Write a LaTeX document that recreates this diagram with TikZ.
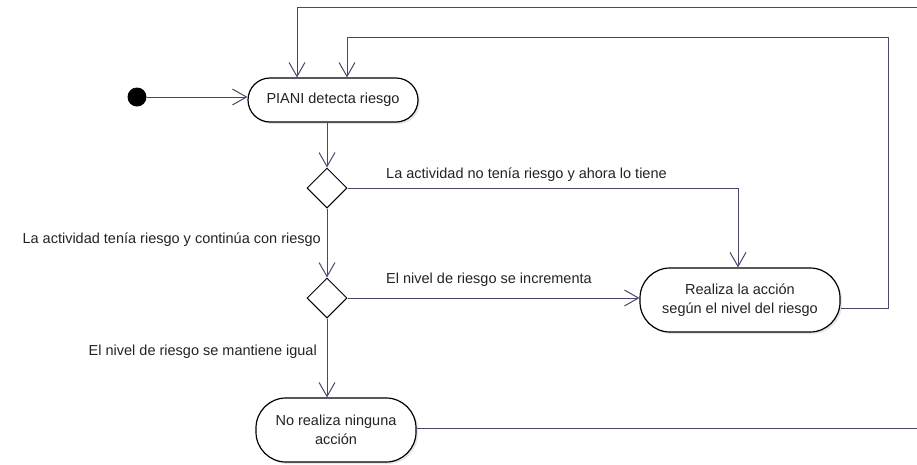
\documentclass[tikz,border=0pt]{standalone}
\usepackage{fontspec}
\setmainfont{Liberation Sans}
\usetikzlibrary{arrows.meta}
\usetikzlibrary{shapes}
\usetikzlibrary{positioning}
\usetikzlibrary{shadows}

\definecolor{flow}{RGB}{72,72,108}
\definecolor{ink}{RGB}{35,35,35}

\begin{document}
\begin{tikzpicture}[x=1pt,y=-1pt]
            \tikzset{every node/.style={font=\fontsize{14.5}{19}\selectfont, text=ink},
                    >={Straight Barb[length=14pt,width=16pt]},
                    action/.style={draw=black, line width=1.2pt, fill=white, align=center,
                        drop shadow={shadow xshift=2pt, shadow yshift=-2pt, opacity=0.2}},
                    decision/.style={diamond, draw=black, line width=1pt, fill=white,
                        minimum size=40pt, inner sep=0pt},
                    guard/.style={inner sep=1pt},
                    flowline/.style={draw=flow, line width=1pt}}
            \useasboundingbox (0,0) rectangle (917,464);
            \node[circle, fill=black, minimum size=19pt, inner sep=0pt] (start) at (137,97) {};
            \node[action, minimum width=170pt, minimum height=44pt, rounded corners=22pt] (piani) at (333,100) {PIANI detecta riesgo};
            \node[decision] (d1) at (327,188) {};
            \node[decision] (d2) at (327,298) {};
            \node[action, minimum width=200pt, minimum height=64pt, rounded corners=30pt] (act) at (740,300) {Realiza la acción\\según el nivel del riesgo};
            \node[action, minimum width=160pt, minimum height=64pt, rounded corners=30pt] (none) at (336,430) {No realiza ninguna\\acción};
            \coordinate (loopA) at (930,7);
            \coordinate (loopB) at (888,37);
            % guards
            \node[guard, anchor=west] (g1) at (385,175) {La actividad no tenía riesgo y ahora lo tiene};
            \node[guard, anchor=east] (g2) at (322,240) {La actividad tenía riesgo y continúa con riesgo};
            \node[guard, anchor=west] (g3) at (385,280) {El nivel de riesgo se incrementa};
            \node[guard, anchor=east] (g4) at (318,352) {El nivel de riesgo se mantiene igual};
            % flows
            \draw[flowline, ->] (start) -- (start -| piani.west);
            \draw[flowline, ->] (piani.south -| d1.north) -- (d1.north);
            \draw[flowline, ->] (d1.east) -| ([xshift=-2pt]act.north);
            \draw[flowline, ->] (d1.south) -- (d2.north);
            \draw[flowline, ->] (d2.east) -- (d2.east -| act.west);
            \draw[flowline, ->] (d2.south) -- (d2.south |- none.north);
            \draw[flowline, ->] ([yshift=-8pt]act.east) -| (loopB) -| ([xshift=14pt]piani.north);
            \draw[flowline, ->] ([yshift=2pt]none.east) -| (loopA) -| ([xshift=-36pt]piani.north);
        \end{tikzpicture}
\end{document}
